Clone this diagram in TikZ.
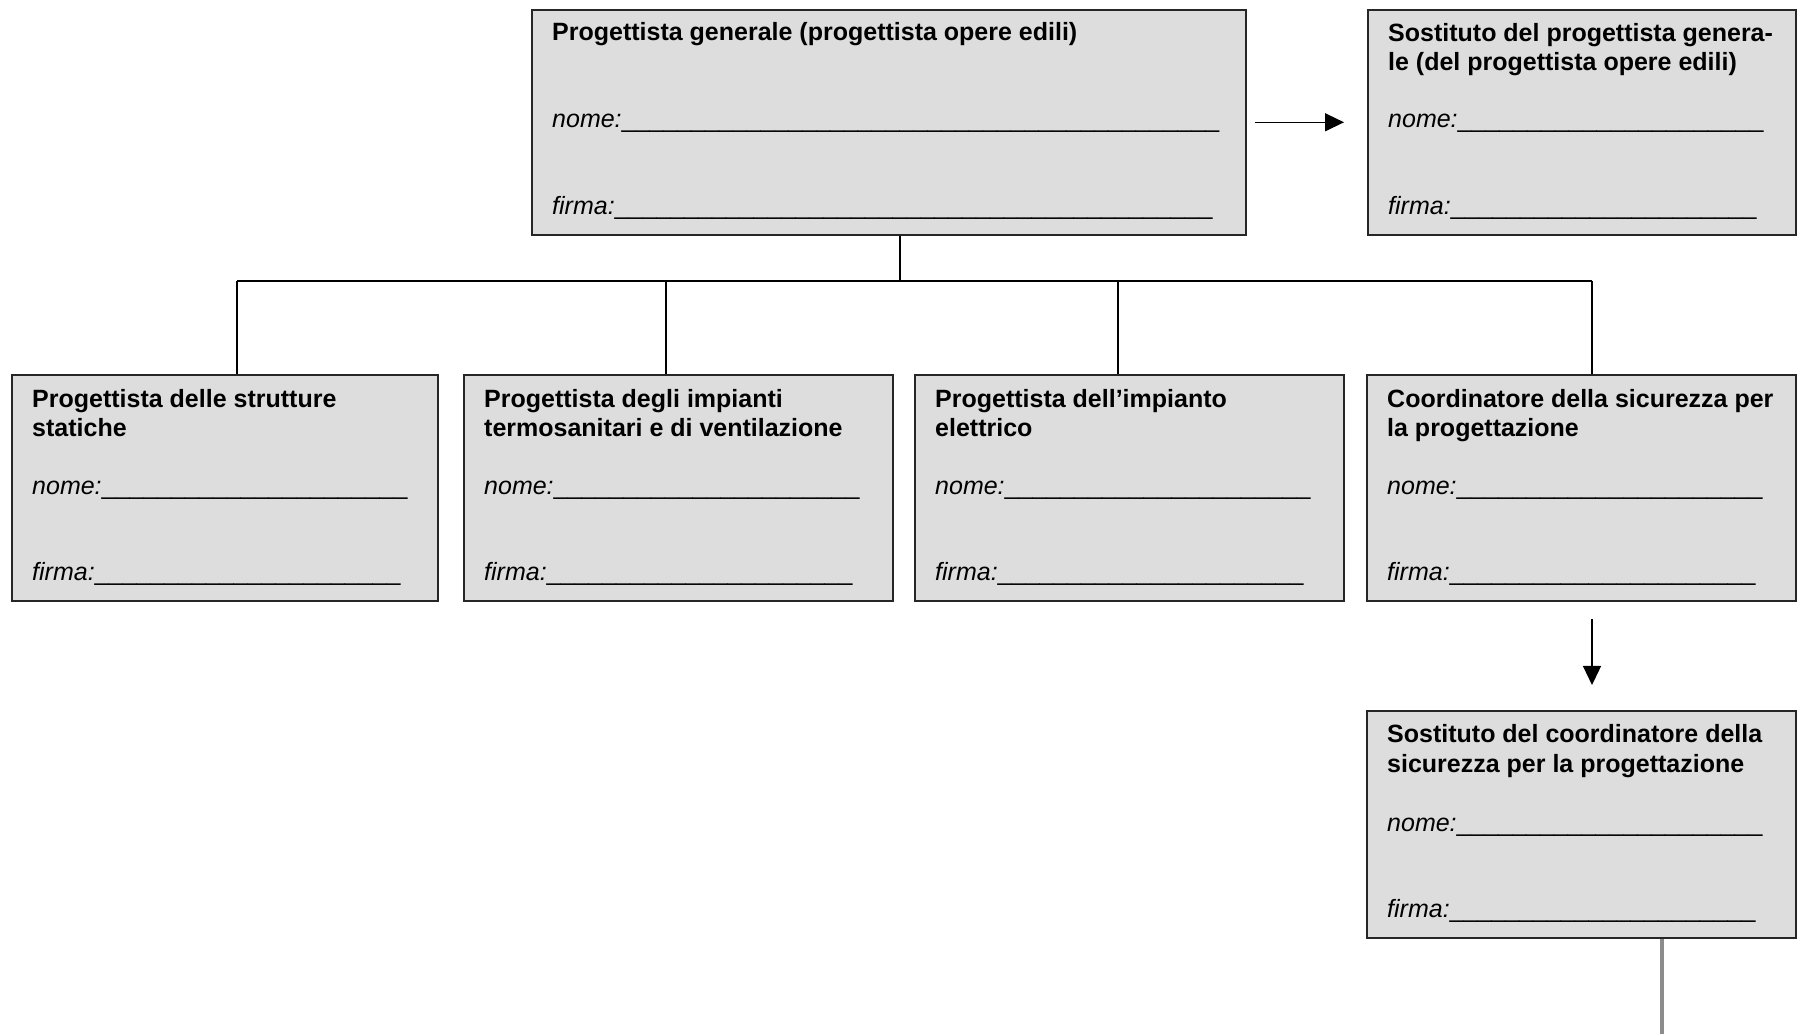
\documentclass[tikz,border=0pt]{standalone}
\usepackage{fontspec}
\setmainfont{Liberation Sans}
\usetikzlibrary{arrows.meta,calc}
\definecolor{boxgray}{HTML}{DDDDDD}
\definecolor{tailgray}{HTML}{8C8C8C}
\newcommand{\blank}[1]{\foreach \i in {1,...,#1}{\_}}

\begin{document}
\begin{tikzpicture}[x=1pt,y=1pt,
	box/.style={draw=black!85,fill=boxgray,line width=1.6pt,anchor=north west,inner sep=0pt},
	title/.style={anchor=base west,align=left,inner sep=0pt,font=\fontsize{25}{29}\selectfont\bfseries},
	field/.style={anchor=base west,inner sep=0pt,font=\fontsize{25}{29}\selectfont},
	link/.style={line width=1.3pt},
	arrow/.style={link,-{Triangle[length=19pt,width=18pt]}},
	tail/.style={draw=tailgray,line width=4pt}]
	\useasboundingbox (0,0) rectangle (1798,1034);
%	\draw[style=help lines,step=100] (0,0) grid (1798,1034);
	%Box coordinate
	\coordinate (general) at (531,1025) ;
	\coordinate (substitute1) at (1367,1025) ;
	\coordinate (structures) at (11,660) ;
	\coordinate (plumbing) at (463,660) ;
	\coordinate (electric) at (914,660) ;
	\coordinate (safety) at (1366,660) ;
	\coordinate (substitute2) at (1366,324) ;
	%Line coordinate
	\coordinate (hub) at (900,753) ;
	\coordinate (drop1) at (237,753) ;
	\coordinate (drop2) at (666,753) ;
	\coordinate (drop3) at (1118,753) ;
	\coordinate (drop4) at (1592,753) ;
	\coordinate (tailend) at (1662,0) ;

	%Boxes
	\node[box,minimum width=714,minimum height=225] (gen) at (general) {};
	\node[box,minimum width=428,minimum height=225] (sostgen) at (substitute1) {};
	\node[box,minimum width=426,minimum height=226] (strut) at (structures) {};
	\node[box,minimum width=429,minimum height=226] (term) at (plumbing) {};
	\node[box,minimum width=429,minimum height=226] (elet) at (electric) {};
	\node[box,minimum width=429,minimum height=226] (coord) at (safety) {};
	\node[box,minimum width=429,minimum height=227] (sostcoord) at (substitute2) {};

	%Text (two-line titles sit on their last baseline)
	\node[title] (gen-t) at ([shift={(21,-32)}]gen.north west) {Progettista generale (progettista opere edili)};
	\node[field] (gen-n) at ([shift={(21,-119)}]gen.north west) {\textit{nome:}\blank{43}};
	\node[field] (gen-f) at ([shift={(21,-206)}]gen.north west) {\textit{firma:}\blank{43}};

	\node[title] (sostgen-t) at ([shift={(21,-62)}]sostgen.north west) {Sostituto del progettista genera-\\le (del progettista opere edili)};
	\node[field] (sostgen-n) at ([shift={(21,-119)}]sostgen.north west) {\textit{nome:}\blank{22}};
	\node[field] (sostgen-f) at ([shift={(21,-206)}]sostgen.north west) {\textit{firma:}\blank{22}};

	\node[title] (strut-t) at ([shift={(21,-63)}]strut.north west) {Progettista delle strutture\\statiche};
	\node[field] (strut-n) at ([shift={(21,-121)}]strut.north west) {\textit{nome:}\blank{22}};
	\node[field] (strut-f) at ([shift={(21,-207)}]strut.north west) {\textit{firma:}\blank{22}};

	\node[title] (term-t) at ([shift={(21,-63)}]term.north west) {Progettista degli impianti\\termosanitari e di ventilazione};
	\node[field] (term-n) at ([shift={(21,-121)}]term.north west) {\textit{nome:}\blank{22}};
	\node[field] (term-f) at ([shift={(21,-207)}]term.north west) {\textit{firma:}\blank{22}};

	\node[title] (elet-t) at ([shift={(21,-63)}]elet.north west) {Progettista dell’impianto\\elettrico};
	\node[field] (elet-n) at ([shift={(21,-121)}]elet.north west) {\textit{nome:}\blank{22}};
	\node[field] (elet-f) at ([shift={(21,-207)}]elet.north west) {\textit{firma:}\blank{22}};

	\node[title] (coord-t) at ([shift={(21,-63)}]coord.north west) {Coordinatore della sicurezza per\\la progettazione};
	\node[field] (coord-n) at ([shift={(21,-121)}]coord.north west) {\textit{nome:}\blank{22}};
	\node[field] (coord-f) at ([shift={(21,-207)}]coord.north west) {\textit{firma:}\blank{22}};

	\node[title] (sostcoord-t) at ([shift={(21,-62)}]sostcoord.north west) {Sostituto del coordinatore della\\sicurezza per la progettazione};
	\node[field] (sostcoord-n) at ([shift={(21,-121)}]sostcoord.north west) {\textit{nome:}\blank{22}};
	\node[field] (sostcoord-f) at ([shift={(21,-207)}]sostcoord.north west) {\textit{firma:}\blank{22}};

	%Lines
	\draw[link] (gen.south -| hub)--(hub);%general
	\draw[link] (drop1)--(drop4);%bar
	\draw[link] (drop1)--(drop1 |- strut.north);%structures
	\draw[link] (drop2)--(drop2 |- term.north);%plumbing
	\draw[link] (drop3)--(drop3 |- elet.north);%electric
	\draw[link] (drop4)--(drop4 |- coord.north);%safety

	%Arrows
	\draw[arrow] ([xshift=8]gen.east)--([xshift=-23]sostgen.west);
	\draw[arrow] ($(coord.south -| drop4)+(0,-17)$)--($(sostcoord.north -| drop4)+(0,25)$);
	\draw[tail] (sostcoord.south -| tailend)--(tailend);
\end{tikzpicture}
\end{document}
